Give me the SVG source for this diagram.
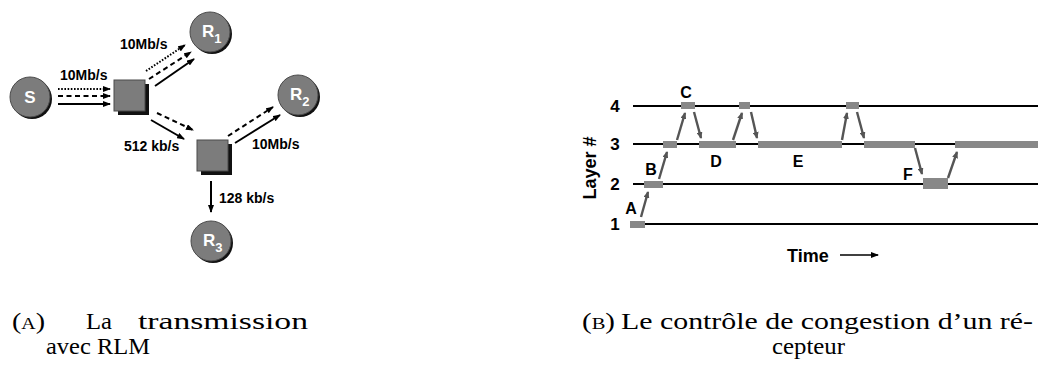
<svg xmlns="http://www.w3.org/2000/svg" width="1038" height="374" viewBox="0 0 1038 374">
<style>
.lbl{font-family:"Liberation Sans",Arial,sans-serif;font-weight:bold;fill:#000}
.cl{font-family:"Liberation Sans",Arial,sans-serif;font-weight:bold;fill:#fff}
.cap{font-family:"Liberation Serif","Times New Roman",serif;font-size:24px;fill:#000}
.ar{stroke:#000;stroke-width:2;fill:none;marker-end:url(#ah)}
.dot{stroke-dasharray:1.6 1.6}
.dash{stroke-dasharray:5 3.5}
.node{fill:#7c7c7c;stroke:#4a4a4a;stroke-width:1}
.shadow{fill:#111}
.lay{stroke:#000;stroke-width:2}
.bar{fill:#888}
.gar{stroke:#555;stroke-width:2.4;fill:none;marker-end:url(#gh)}
</style>
<defs>
<marker id="ah" markerUnits="userSpaceOnUse" markerWidth="8" markerHeight="6" refX="7" refY="3" orient="auto"><path d="M0,0 L8,3 L0,6 Z" fill="#000"/></marker>
<marker id="gh" markerUnits="userSpaceOnUse" markerWidth="7" markerHeight="6" refX="6" refY="3" orient="auto"><path d="M0,0 L7,3 L0,6 Z" fill="#555"/></marker>
</defs>
<rect width="1038" height="374" fill="#fff"/>

<!-- Left diagram nodes -->
<g id="S"><circle class="shadow" cx="32" cy="99" r="20"/><circle class="node" cx="30" cy="97" r="20"/><text class="cl" x="30" y="103" font-size="17" text-anchor="middle">S</text></g>
<g id="R1"><circle class="shadow" cx="212" cy="34" r="20"/><circle class="node" cx="210" cy="32" r="20"/><text class="cl" x="202" y="37" font-size="17">R<tspan font-size="13" dy="6">1</tspan></text></g>
<g id="R2"><circle class="shadow" cx="300" cy="97" r="20"/><circle class="node" cx="298" cy="95" r="20"/><text class="cl" x="290" y="100" font-size="17">R<tspan font-size="13" dy="6">2</tspan></text></g>
<g id="R3"><circle class="shadow" cx="213" cy="243" r="20"/><circle class="node" cx="211" cy="241" r="20"/><text class="cl" x="203" y="246" font-size="17">R<tspan font-size="13" dy="6">3</tspan></text></g>
<g id="router1"><rect class="shadow" x="118" y="84" width="31" height="31"/><rect class="node" x="114" y="80" width="31" height="31"/></g>
<g id="router2"><rect class="shadow" x="201" y="144" width="31" height="31"/><rect class="node" x="197" y="140" width="31" height="31"/></g>

<g id="connectors">
<line class="ar dot" x1="58" y1="89" x2="110" y2="89"/>
<line class="ar dash" x1="58" y1="96" x2="110" y2="96"/>
<line class="ar" x1="58" y1="104" x2="110" y2="104"/>
<line class="ar dot" x1="146" y1="71" x2="185" y2="45"/>
<line class="ar dash" x1="149" y1="79" x2="191" y2="52"/>
<line class="ar" x1="155" y1="86" x2="194" y2="59"/>
<line class="ar dash" x1="157" y1="113" x2="193" y2="130"/>
<line class="ar" x1="151" y1="120" x2="184" y2="139"/>
<line class="ar dash" x1="228" y1="136" x2="273" y2="107"/>
<line class="ar" x1="235" y1="143" x2="280" y2="115"/>
<line class="ar" x1="211" y1="181" x2="211" y2="212"/>
</g>
<g id="left-labels">
<text class="lbl" x="60" y="80" font-size="14">10Mb/s</text>
<text class="lbl" x="120" y="49" font-size="14">10Mb/s</text>
<text class="lbl" x="124" y="151" font-size="14">512 kb/s</text>
<text class="lbl" x="252" y="149" font-size="14">10Mb/s</text>
<text class="lbl" x="219" y="203" font-size="14">128 kb/s</text>
</g>

<!-- Right diagram -->
<g id="layers">
<line class="lay" x1="633" y1="106" x2="1038" y2="106"/>
<line class="lay" x1="633" y1="144" x2="1038" y2="144"/>
<line class="lay" x1="633" y1="184" x2="1038" y2="184"/>
<line class="lay" x1="633" y1="224" x2="1038" y2="224"/>
<text class="lbl" x="615" y="112" font-size="17" text-anchor="middle">4</text>
<text class="lbl" x="615" y="150" font-size="17" text-anchor="middle">3</text>
<text class="lbl" x="615" y="190" font-size="17" text-anchor="middle">2</text>
<text class="lbl" x="615" y="230" font-size="17" text-anchor="middle">1</text>
<text class="lbl" font-size="18" text-anchor="middle" transform="translate(596,168) rotate(-90)">Layer #</text>
</g>
<g id="bars">
<rect class="bar" x="630" y="221" width="15" height="7"/>
<rect class="bar" x="644" y="181" width="19" height="7"/>
<rect class="bar" x="663" y="141" width="14" height="7"/>
<rect class="bar" x="681" y="102" width="14" height="7"/>
<rect class="bar" x="699" y="141" width="37" height="7"/>
<rect class="bar" x="739" y="102" width="11" height="7"/>
<rect class="bar" x="758" y="141" width="84" height="7"/>
<rect class="bar" x="846" y="102" width="13" height="7"/>
<rect class="bar" x="864" y="141" width="51" height="7"/>
<rect class="bar" x="923" y="178" width="25" height="11"/>
<rect class="bar" x="955" y="141" width="83" height="7"/>
</g>
<g id="transitions">
<line class="gar" x1="641" y1="217" x2="648" y2="192"/>
<line class="gar" x1="659" y1="179" x2="667" y2="152"/>
<line class="gar" x1="677" y1="140" x2="685" y2="113"/>
<line class="gar" x1="694" y1="112" x2="701" y2="138"/>
<line class="gar" x1="733" y1="140" x2="742" y2="113"/>
<line class="gar" x1="751" y1="112" x2="757" y2="138"/>
<line class="gar" x1="842" y1="140" x2="847" y2="113"/>
<line class="gar" x1="857" y1="112" x2="864" y2="138"/>
<line class="gar" x1="915" y1="148" x2="922" y2="174"/>
<line class="gar" x1="948" y1="178" x2="957" y2="152"/>
</g>
<g id="event-labels">
<text class="lbl" x="631" y="214" font-size="16" text-anchor="middle">A</text>
<text class="lbl" x="651" y="175" font-size="16" text-anchor="middle">B</text>
<text class="lbl" x="686" y="98" font-size="16" text-anchor="middle">C</text>
<text class="lbl" x="716" y="167" font-size="16" text-anchor="middle">D</text>
<text class="lbl" x="798" y="167" font-size="16" text-anchor="middle">E</text>
<text class="lbl" x="908" y="180" font-size="16" text-anchor="middle">F</text>
</g>
<g id="time-axis">
<text class="lbl" x="787" y="262" font-size="18">Time</text>
<line x1="840" y1="255" x2="878" y2="255" stroke="#000" stroke-width="1.5" marker-end="url(#ah)"/>
</g>

<!-- Captions -->
<g id="captions">
<text class="cap" x="12" y="329" textLength="33" lengthAdjust="spacingAndGlyphs">(<tspan font-size="17">A</tspan>)</text>
<text class="cap" x="86" y="329" textLength="26" lengthAdjust="spacingAndGlyphs">La</text>
<text class="cap" x="138" y="329" textLength="170" lengthAdjust="spacingAndGlyphs">transmission</text>
<text class="cap" x="46" y="354" textLength="104" lengthAdjust="spacingAndGlyphs">avec RLM</text>
<text class="cap" x="582" y="329" textLength="33" lengthAdjust="spacingAndGlyphs">(<tspan font-size="17">B</tspan>)</text>
<text class="cap" x="621" y="329" textLength="412" lengthAdjust="spacingAndGlyphs">Le contrôle de congestion d’un ré-</text>
<text class="cap" x="772" y="354" textLength="73" lengthAdjust="spacingAndGlyphs">cepteur</text>
</g>
</svg>
